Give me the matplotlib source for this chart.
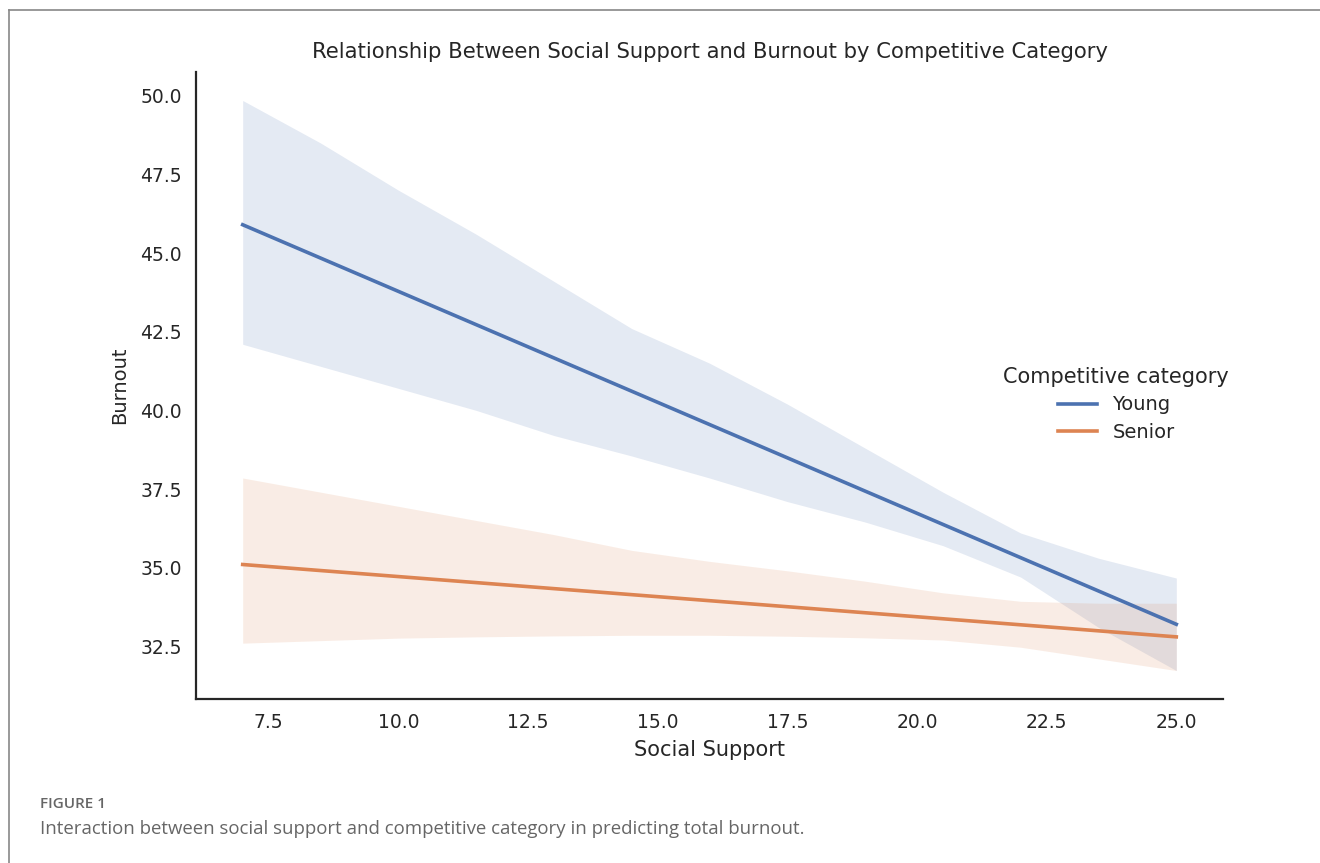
import matplotlib
matplotlib.use("Agg")
import matplotlib.pyplot as plt
from matplotlib.lines import Line2D

# fitted lines (end points of the regression lines)
x_fit = [7, 25]
young_fit = [45.9, 33.2]
senior_fit = [35.1, 32.8]

# confidence bands
x_ci = [7, 8.5, 10, 11.5, 13, 14.5, 16, 17.5, 19, 20.5, 22, 23.5, 25]
young_hi = [49.85, 48.5, 47.0, 45.6, 44.1, 42.6, 41.5, 40.2, 38.8, 37.4, 36.1, 35.3, 34.67]
young_lo = [42.1, 41.4, 40.7, 40.0, 39.2, 38.55, 37.85, 37.1, 36.45, 35.7, 34.7, 33.1, 31.73]
senior_hi = [37.85, 37.4, 36.95, 36.5, 36.05, 35.55, 35.2, 34.9, 34.57, 34.2, 33.93, 33.87, 33.87]
senior_lo = [32.6, 32.68, 32.76, 32.8, 32.83, 32.85, 32.85, 32.82, 32.77, 32.7, 32.47, 32.1, 31.73]

groups = ["Young", "Senior"]
colors = ["#4C72B0", "#DD8452"]

fig = plt.figure(figsize=(13.2, 8.63), dpi=100)
ax = fig.add_axes([0.1485, 0.19, 0.778, 0.7266])

ax.fill_between(x_ci, young_lo, young_hi, color=colors[0], alpha=0.15, lw=0)
ax.plot(x_fit, young_fit, color=colors[0], lw=2.6)
ax.fill_between(x_ci, senior_lo, senior_hi, color=colors[1], alpha=0.15, lw=0)
ax.plot(x_fit, senior_fit, color=colors[1], lw=2.6)

ax.margins(x=0.05, y=0.05)
ax.set_xticks([7.5, 10, 12.5, 15, 17.5, 20, 22.5, 25])
ax.set_yticks([32.5, 35, 37.5, 40, 42.5, 45, 47.5, 50])
ax.xaxis.set_major_formatter(matplotlib.ticker.FormatStrFormatter("%.1f"))
ax.yaxis.set_major_formatter(matplotlib.ticker.FormatStrFormatter("%.1f"))
ax.tick_params(length=0, labelsize=13.5, colors="#262626", pad=10)

for s in ["top", "right"]:
    ax.spines[s].set_visible(False)
for s in ["left", "bottom"]:
    ax.spines[s].set_color("#262626")
    ax.spines[s].set_linewidth(1.6)

ax.set_title("Relationship Between Social Support and Burnout by Competitive Category",
             fontsize=15.2, color="#262626", pad=10)
ax.set_xlabel("Social Support", fontsize=15, color="#262626", labelpad=6)
ax.set_ylabel("Burnout", fontsize=14, color="#262626", labelpad=8)

handles = [Line2D([], [], color=c, lw=2.6) for c in colors]
leg = ax.legend(handles, groups, title="Competitive category", frameon=False,
                loc="center", bbox_to_anchor=(0.896, 0.47), fontsize=14,
                title_fontsize=15, handlelength=2.0, labelspacing=0.45)
for t in leg.get_texts():
    t.set_color("#262626")
leg.get_title().set_color("#262626")

# outer frame of the figure panel
fig.add_artist(Line2D([9 / 1320, 1.0], [1 - 10 / 863] * 2, color="#888888", lw=1.2))
fig.add_artist(Line2D([9 / 1320] * 2, [0, 1 - 10 / 863], color="#888888", lw=1.2))

fig.text(40 / 1320, 1 - 804 / 863, "FIGURE 1", fontsize=11, color="#666666",
         family="Open Sans", weight="semibold", va="center")
fig.text(40 / 1320, 1 - 829 / 863,
         "Interaction between social support and competitive category in predicting total burnout.",
         fontsize=13.4, color="#666666", family="Open Sans", va="center")

fig.savefig("out.png", dpi=100)
